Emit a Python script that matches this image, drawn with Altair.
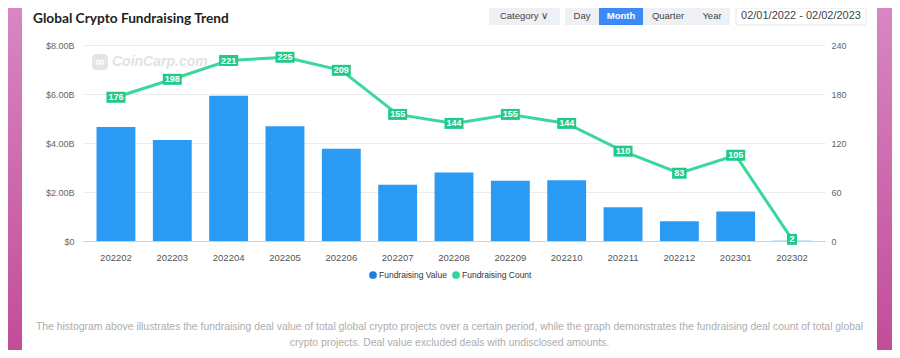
import altair as alt
import pandas as pd

months = ["202202", "202203", "202204", "202205", "202206", "202207", "202208",
          "202209", "202210", "202211", "202212", "202301", "202302"]
value_b = [4.65, 4.12, 5.93, 4.68, 3.77, 2.30, 2.80, 2.46, 2.48, 1.38, 0.81, 1.20, 0.01]
counts = [176, 198, 221, 225, 209, 155, 144, 155, 144, 110, 83, 105, 2]

left_ticks = [0, 2, 4, 6, 8]
right_ticks = [0, 60, 120, 180, 240]

df = pd.DataFrame({"month": months, "value": value_b, "count": counts})

W, H = 742, 196
BLUE = "#2b9af3"
GREEN = "#3ad89a"
BOXG = "#22c98b"
FONT = "Liberation Sans"

one = alt.Data(values=[{}])


def rect(x1, x2, y1, y2, color, stroke=None, radius=0):
    kw = dict(color=color, cornerRadius=radius)
    if stroke:
        kw.update(stroke=stroke, strokeWidth=1)
    return alt.Chart(one).mark_rect(**kw).encode(
        x=alt.value(x1), x2=alt.value(x2), y=alt.value(y1), y2=alt.value(y2))


def txt(s, x, y, size=9.5, color="#333", weight="normal", align="center",
        font=FONT, style="normal"):
    return alt.Chart(one).mark_text(
        text=s, fontSize=size, color=color, fontWeight=weight, align=align,
        baseline="middle", font=font, fontStyle=style).encode(
        x=alt.value(x), y=alt.value(y))


pink = alt.LinearGradient(
    gradient="linear",
    stops=[alt.GradientStop(color="#d886c4", offset=0),
           alt.GradientStop(color="#c24d98", offset=1)],
    x1=0, x2=0, y1=0, y2=1)

deco = [
    rect(-75, -61, -37, 305, pink),
    rect(794, 809, -37, 305, pink),
    txt("Global Crypto Fundraising Trend", -50, -26, size=13.7, color="#222",
        weight="bold", align="left", font="Lato"),
    rect(406, 477, -37, -20, "#eef0f4"),
    txt("Category ∨", 441, -29, size=9.5, color="#444"),
    rect(482, 647, -37, -20, "#eef0f4"),
    rect(516, 560, -37, -20, "#3d8af6"),
    txt("Day", 499, -29, size=9.5, color="#444"),
    txt("Month", 538, -29, size=9.5, color="white", weight="bold"),
    txt("Quarter", 585, -29, size=9.5, color="#444"),
    txt("Year", 629, -29, size=9.5, color="#444"),
    rect(653, 783, -37, -20, "white", stroke="#e6e6e6", radius=2),
    txt("02/01/2022 - 02/02/2023", 718, -29, size=11, color="#444"),
    rect(9, 25, 9, 25, "#e4e4e4", radius=4),
    txt("∞", 17, 17, size=13, color="white", weight="bold", font="DejaVu Sans"),
    txt("CoinCarp.com", 29, 17, size=14, color="#e2e2e2", weight="bold",
        align="left", style="italic"),
    alt.Chart(one).mark_point(filled=True, size=60, color="#1f7fe0", opacity=1).encode(
        x=alt.value(290), y=alt.value(230)),
    txt("Fundraising Value", 296, 230, size=8.5, color="#333", align="left"),
    alt.Chart(one).mark_point(filled=True, size=60, color="#2fd49a", opacity=1).encode(
        x=alt.value(373), y=alt.value(230)),
    txt("Fundraising Count", 379, 230, size=8.5, color="#333", align="left"),
    txt("The histogram above illustrates the fundraising deal value of total global crypto projects over a certain period, while the graph demonstrates the fundraising deal count of total global",
        366.5, 282, size=10.4, color="#adadad"),
    txt("crypto projects. Deal value excluded deals with undisclosed amounts.",
        366.5, 298, size=10.4, color="#adadad"),
]

xenc = alt.X("month:N", sort=months, title=None,
             scale=alt.Scale(paddingInner=0.31, paddingOuter=0.24),
             axis=alt.Axis(labelAngle=0, labelFont=FONT, labelFontSize=9.5,
                           labelColor="#555", labelPadding=11, ticks=False,
                           domainColor="#d0d0d0", grid=False))

base = alt.Chart(df)

bars = base.mark_bar(color=BLUE).encode(
    x=xenc,
    y=alt.Y("value:Q", title=None,
            scale=alt.Scale(domain=[0, 8], nice=False),
            axis=alt.Axis(orient="left", values=left_ticks, domain=False, ticks=False,
                          labelFont=FONT, labelFontSize=9, labelColor="#666",
                          labelPadding=9, gridColor="#ececec",
                          labelExpr="datum.value == 0 ? '$0' : '$' + format(datum.value, '.2f') + 'B'")),
)

cy = alt.Y("count:Q", title=None, scale=alt.Scale(domain=[0, 240], nice=False),
           axis=alt.Axis(orient="right", values=right_ticks, domain=False, ticks=False,
                         grid=False, labelFont=FONT, labelFontSize=9,
                         labelColor="#666", labelPadding=6))
cy_noaxis = alt.Y("count:Q", title=None, scale=alt.Scale(domain=[0, 240], nice=False),
                  axis=None)

line = base.mark_line(color=GREEN, strokeWidth=3).encode(x=xenc, y=cy)

boxes = base.transform_calculate(
    w="length(toString(datum.count)) * 4.5 + 5.5"
).mark_tick(color=BOXG, thickness=11, opacity=1, filled=True).encode(
    x=xenc, y=cy_noaxis, size=alt.Size("w:Q", scale=None, legend=None))

labels = base.mark_text(color="white", fontWeight="bold", fontSize=9, font=FONT,
                        baseline="middle").encode(
    x=xenc, y=cy_noaxis, text="count:Q")

chart = alt.layer(*deco, bars, line, boxes, labels).resolve_scale(
    y="independent"
).properties(
    width=W, height=H,
    padding={"left": 75, "top": 37, "right": 67, "bottom": 109},
    autosize=alt.AutoSizeParams(type="none"),
    background="white",
).configure_view(stroke=None)

chart.save("out.html", embed_options={"renderer": "svg", "actions": False})
